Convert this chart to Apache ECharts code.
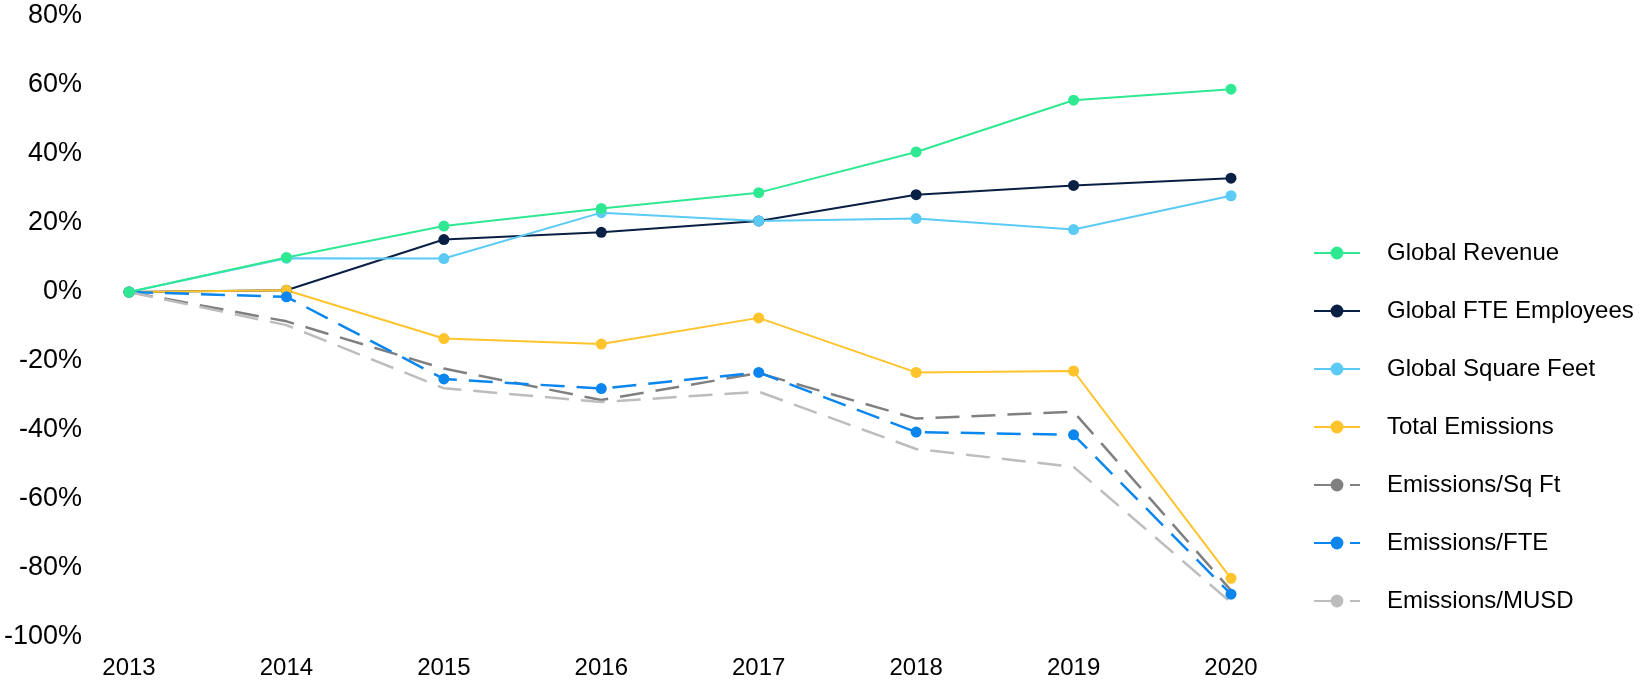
<!DOCTYPE html>
<html>
<head>
<meta charset="utf-8">
<script src="https://cdn.jsdelivr.net/npm/echarts@6/dist/echarts.min.js"></script>
<style>
html,body{margin:0;padding:0;background:#fff;}
#chart{width:1641px;height:685px;}
</style>
</head>
<body>
<div id="chart"></div>
<script>
const years = ['2013','2014','2015','2016','2017','2018','2019','2020'];
const globalRevenue = [0, 10.0, 19.1, 24.2, 28.8, 40.6, 55.6, 58.8];
const globalFTE = [0, 0.5, 15.2, 17.3, 20.6, 28.2, 30.9, 33.0];
const globalSqFt = [0, 9.8, 9.7, 23.0, 20.6, 21.3, 18.1, 27.9];
const totalEmissions = [0, 0.5, -13.5, -15.1, -7.5, -23.3, -22.9, -83.0];
const emissionsSqFt = [0, -8.5, -22.2, -31.3, -23.5, -36.7, -34.7, -86.5];
const emissionsFTE = [0, -1.4, -25.2, -28.0, -23.3, -40.6, -41.4, -87.6];
const emissionsMUSD = [0, -9.6, -27.9, -31.9, -28.9, -45.5, -50.7, -90.0];
const yTicks = {min: -100, max: 80, interval: 20};

const font = 'Arial, "Liberation Sans", sans-serif';
function solid(name, data, color, z) {
  return {name, type: 'line', data, z: z || 2, symbol: 'circle', symbolSize: 11,
    lineStyle: {color, width: 2}, itemStyle: {color}};
}
function dashed(name, data, color, showSym) {
  return {name, type: 'line', data, symbol: 'circle', symbolSize: 11, showSymbol: showSym,
    lineStyle: {color, width: 2.5, type: [24, 12]}, itemStyle: {color}};
}
const chart = echarts.init(document.getElementById('chart'));
chart.setOption({
  animation: false,
  backgroundColor: '#fff',
  grid: {left: 129, right: 410, top: 16, bottom: 48},
  legend: {
    orient: 'vertical', left: 1308, top: 236, itemGap: 34,
    itemWidth: 46, itemHeight: 16,
    textStyle: {fontSize: 24, color: '#000', fontFamily: font, padding: [0, 0, 0, 22]},
    data: ['Global Revenue','Global FTE Employees','Global Square Feet','Total Emissions','Emissions/Sq Ft','Emissions/FTE','Emissions/MUSD']
  },
  xAxis: {
    type: 'category', data: years, boundaryGap: false,
    axisLine: {show: false}, axisTick: {show: false}, splitLine: {show: false},
    axisLabel: {fontSize: 24, color: '#000', fontFamily: font, margin: 19}
  },
  yAxis: {
    type: 'value', min: yTicks.min, max: yTicks.max, interval: yTicks.interval,
    axisLine: {show: false}, axisTick: {show: false}, splitLine: {show: false},
    axisLabel: {fontSize: 27, color: '#000', fontFamily: font, margin: 47, formatter: '{value}%'}
  },
  series: [
    solid('Global Revenue', globalRevenue, '#2FE892', 5),
    solid('Global FTE Employees', globalFTE, '#0A1F44'),
    solid('Global Square Feet', globalSqFt, '#5BCBF5'),
    solid('Total Emissions', totalEmissions, '#FFC32B'),
    dashed('Emissions/Sq Ft', emissionsSqFt, '#808080', false),
    dashed('Emissions/FTE', emissionsFTE, '#0A86EE', true),
    dashed('Emissions/MUSD', emissionsMUSD, '#BDBDBD', false)
  ]
});
</script>
</body>
</html>
